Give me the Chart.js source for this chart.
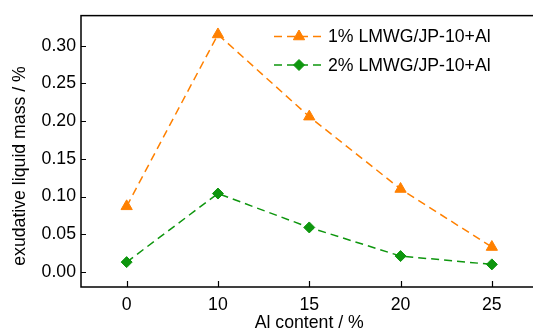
<!DOCTYPE html>
<html>
<head>
<meta charset="utf-8">
<script src="https://cdn.jsdelivr.net/npm/chart.js@4"></script>
<style>
  html, body { margin: 0; padding: 0; background: #fff; overflow: hidden; }
  #wrap { position: absolute; left: 0; top: 0; width: 545px; height: 329px; }
</style>
</head>
<body>
<div id="wrap"><canvas id="chart" width="545" height="329"></canvas></div>
<script>
// values
const alContent = ['0', '10', '15', '20', '25'];
const series1 = [0.087, 0.315, 0.206, 0.110, 0.033];
const series2 = [0.013, 0.104, 0.059, 0.021, 0.010];
const yTicks = [0, 0.05, 0.10, 0.15, 0.20, 0.25, 0.30];

const orange = '#ff8000';
const green = '#0e960e';
const font = "'Liberation Sans', Arial, sans-serif";
const fs = 17.7;

// frame, inward ticks, legend and axis titles
const extras = {
    id: 'extras',
    afterDraw(chart) {
        const c = chart.ctx, a = chart.chartArea;
        const x = chart.scales.x, y = chart.scales.y;
        c.save();
        c.strokeStyle = '#000';
        c.lineWidth = 1.5;
        c.strokeRect(a.left, a.top, a.right - a.left, a.bottom - a.top);
        c.lineWidth = 1.2;
        c.beginPath();
        yTicks.forEach(v => {
            const p = Math.round(y.getPixelForValue(v)) + 0.5;
            c.moveTo(a.left, p); c.lineTo(a.left + 5, p);
        });
        alContent.forEach((l, i) => {
            const p = Math.round(x.getPixelForValue(i)) + 0.5;
            c.moveTo(p, a.bottom); c.lineTo(p, a.bottom - 6);
        });
        c.stroke();

        // legend
        const ds = chart.data.datasets;
        const rows = [36.5, 65];
        c.font = fs + 'px ' + font;
        ds.forEach((d, i) => {
            const yy = rows[i];
            c.strokeStyle = d.borderColor;
            c.lineWidth = 1.5;
            c.setLineDash([8, 5]);
            c.beginPath(); c.moveTo(274, yy); c.lineTo(324, yy); c.stroke();
            c.setLineDash([]);
            c.fillStyle = d.pointBackgroundColor;
            c.strokeStyle = d.pointBorderColor;
            c.lineWidth = 1;
            Chart.helpers.drawPoint(c, {
                pointStyle: d.pointStyle, radius: d.pointRadius, borderWidth: 1
            }, 299, yy);
            c.fillStyle = '#000';
            c.textBaseline = 'middle';
            c.textAlign = 'left';
            c.fillText(d.label, 328, yy + 1);
        });

        // x title
        c.fillStyle = '#000';
        c.textAlign = 'center';
        c.textBaseline = 'alphabetic';
        c.fillText('Al content / %', (a.left + a.right) / 2, 328);

        // y title
        c.translate(20, 166);
        c.rotate(-Math.PI / 2);
        c.textBaseline = 'middle';
        c.fillText('exudative liquid mass / %', 0, 0);
        c.restore();
    }
};

const ctxEl = document.getElementById('chart').getContext('2d');

new Chart(ctxEl, {
    type: 'line',
    data: {
        labels: alContent,
        datasets: [{
            label: '1% LMWG/JP-10+Al',
            data: series1,
            borderColor: orange,
            backgroundColor: orange,
            borderWidth: 1.5,
            borderDash: [8, 5],
            pointStyle: 'triangle',
            pointRadius: 6.5,
            pointBorderWidth: 1,
            pointBackgroundColor: orange,
            pointBorderColor: orange
        }, {
            label: '2% LMWG/JP-10+Al',
            data: series2,
            borderColor: green,
            backgroundColor: green,
            borderWidth: 1.5,
            borderDash: [8, 5],
            pointStyle: 'rectRot',
            pointRadius: 5.5,
            pointBorderWidth: 1,
            pointBackgroundColor: green,
            pointBorderColor: green
        }]
    },
    options: {
        responsive: false,
        animation: false,
        layout: { padding: { top: 13, right: 0, left: 0, bottom: 0 } },
        plugins: {
            legend: { display: false },
            tooltip: { enabled: false }
        },
        scales: {
            x: {
                offset: true,
                grid: { display: false, drawTicks: false },
                border: { display: false },
                ticks: { color: '#000', font: { family: font, size: fs }, padding: 7, maxRotation: 0 },
                afterFit(s) { s.height = 42; }
            },
            y: {
                min: -0.02,
                max: 0.34,
                grid: { display: false, drawTicks: false },
                border: { display: false },
                ticks: {
                    color: '#000',
                    font: { family: font, size: fs },
                    padding: 5,
                    callback: v => v.toFixed(2)
                },
                afterBuildTicks(s) { s.ticks = yTicks.map(v => ({ value: v })); },
                afterFit(s) { s.width = 81; }
            }
        }
    },
    plugins: [extras]
});
</script>
</body>
</html>
